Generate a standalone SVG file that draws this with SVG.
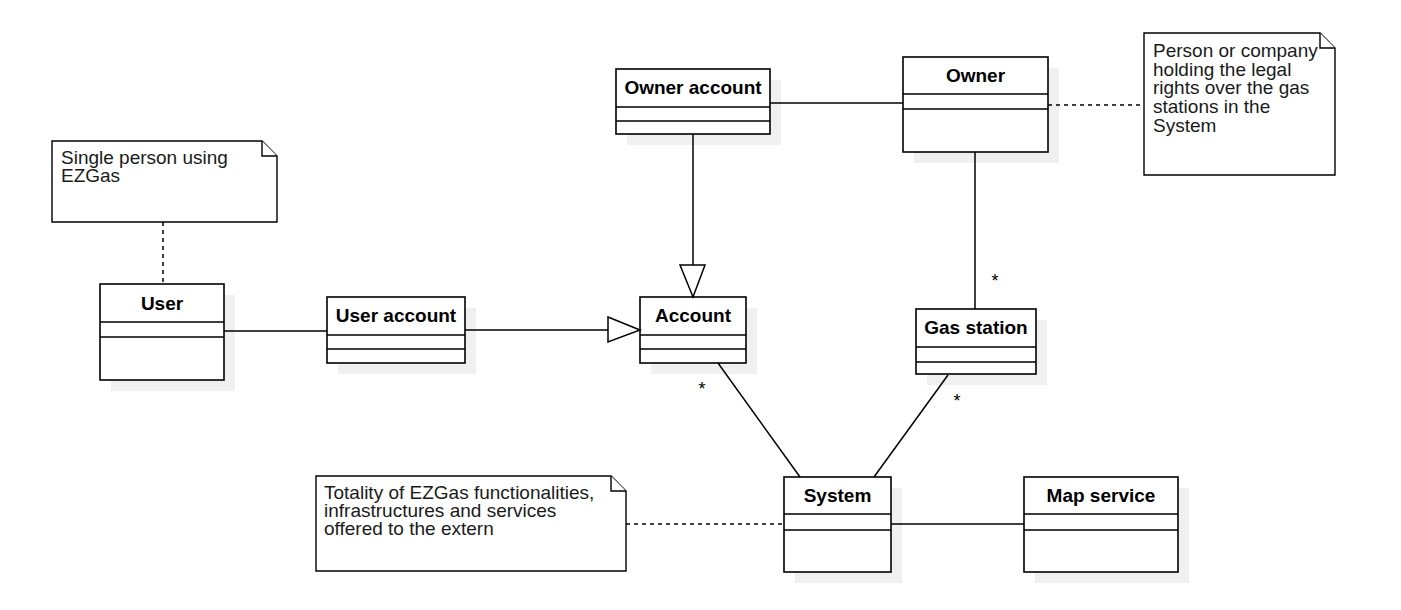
<svg xmlns="http://www.w3.org/2000/svg" width="1401" height="610" viewBox="0 0 1401 610">
<style>
.sh{fill:#f0f0f0;stroke:none}
.box{fill:#fff;stroke:#000;stroke-width:1.6}
.div{stroke:#000;stroke-width:1.6;fill:none}
.name{font-family:"Liberation Sans",Arial,sans-serif;font-size:19px;font-weight:bold;fill:#000;text-anchor:middle}
.note{fill:#fff;stroke:#000;stroke-width:1.4}
.ntxt{font-family:"Liberation Sans",Arial,sans-serif;font-size:19px;fill:#1a1a1a}
.ln{stroke:#000;stroke-width:1.5;fill:none}
.dash{stroke:#000;stroke-width:1.5;fill:none;stroke-dasharray:4 4}
.mult{font-family:"Liberation Sans",Arial,sans-serif;font-size:18px;fill:#000;text-anchor:middle}
</style>
<rect width="1401" height="610" fill="#fff"/>
<g id="note-user">
<path class="note" d="M52,141 H262 L277,156 V222 H52 Z"/>
<path class="note" d="M262,141 V156 H277" fill="none"/>
<text class="ntxt" x="61" y="164">Single person using</text>
<text class="ntxt" x="61" y="182">EZGas</text>
</g>
<g id="note-owner">
<path class="note" d="M1144,33 H1320 L1335,48 V175 H1144 Z"/>
<path class="note" d="M1320,33 V48 H1335" fill="none"/>
<text class="ntxt" x="1153" y="57">Person or company</text>
<text class="ntxt" x="1153" y="76">holding the legal</text>
<text class="ntxt" x="1153" y="94">rights over the gas</text>
<text class="ntxt" x="1153" y="113">stations in the</text>
<text class="ntxt" x="1153" y="132">System</text>
</g>
<g id="note-system">
<path class="note" d="M316,476 H611 L626,491 V571 H316 Z"/>
<path class="note" d="M611,476 V491 H626" fill="none"/>
<text class="ntxt" x="324" y="499">Totality of EZGas functionalities,</text>
<text class="ntxt" x="324" y="517">infrastructures and services</text>
<text class="ntxt" x="324" y="535">offered to the extern</text>
</g>
<g id="user">
<rect class="sh" x="111" y="295" width="124" height="96"/>
<rect class="box" x="100" y="284" width="124" height="96"/>
<path class="div" d="M100,322 H224 M100,337 H224"/>
<text class="name" x="162" y="310">User</text>
</g>
<g id="user-account">
<rect class="sh" x="338" y="308" width="138" height="66"/>
<rect class="box" x="327" y="297" width="138" height="66"/>
<path class="div" d="M327,335 H465 M327,349 H465"/>
<text class="name" x="396" y="322">User account</text>
</g>
<g id="account">
<rect class="sh" x="651" y="308" width="106" height="66"/>
<rect class="box" x="640" y="297" width="106" height="66"/>
<path class="div" d="M640,335 H746 M640,349 H746"/>
<text class="name" x="693" y="322">Account</text>
</g>
<g id="owner-account">
<rect class="sh" x="627" y="80" width="154" height="65"/>
<rect class="box" x="616" y="69" width="154" height="65"/>
<path class="div" d="M616,107 H770 M616,121 H770"/>
<text class="name" x="693" y="94">Owner account</text>
</g>
<g id="owner">
<rect class="sh" x="914" y="68" width="145" height="95"/>
<rect class="box" x="903" y="57" width="145" height="95"/>
<path class="div" d="M903,94 H1048 M903,109 H1048"/>
<text class="name" x="975.500" y="82">Owner</text>
</g>
<g id="gas-station">
<rect class="sh" x="927" y="320" width="120" height="65"/>
<rect class="box" x="916" y="309" width="120" height="65"/>
<path class="div" d="M916,347 H1036 M916,362 H1036"/>
<text class="name" x="976" y="334">Gas station</text>
</g>
<g id="system">
<rect class="sh" x="795" y="488" width="107" height="95"/>
<rect class="box" x="784" y="477" width="107" height="95"/>
<path class="div" d="M784,514 H891 M784,530 H891"/>
<text class="name" x="837.500" y="502">System</text>
</g>
<g id="map-service">
<rect class="sh" x="1035" y="488" width="154" height="95"/>
<rect class="box" x="1024" y="477" width="154" height="95"/>
<path class="div" d="M1024,514 H1178 M1024,530 H1178"/>
<text class="name" x="1101" y="502">Map service</text>
</g>
<g id="connectors">
<line class="dash" x1="163" y1="222" x2="163" y2="284"/>
<line class="ln" x1="224" y1="331" x2="327" y2="331"/>
<line class="ln" x1="465" y1="330" x2="608" y2="330"/>
<polygon points="608,317 640,330 608,342" fill="#fff" stroke="#000" stroke-width="1.5"/>
<line class="ln" x1="693" y1="134" x2="693" y2="265"/>
<polygon points="680,265 705,265 693,297" fill="#fff" stroke="#000" stroke-width="1.5"/>
<line class="ln" x1="770" y1="103" x2="903" y2="103"/>
<line class="dash" x1="1048" y1="105" x2="1144" y2="105"/>
<line class="ln" x1="975" y1="152" x2="975" y2="309"/>
<line class="ln" x1="718" y1="363" x2="800" y2="477"/>
<line class="ln" x1="948" y1="375" x2="874" y2="477"/>
<line class="ln" x1="891" y1="524" x2="1024" y2="524"/>
<line class="dash" x1="626" y1="524" x2="784" y2="524"/>
<text class="mult" x="702" y="395">*</text>
<text class="mult" x="995" y="287">*</text>
<text class="mult" x="957" y="407">*</text>
</g>
</svg>
